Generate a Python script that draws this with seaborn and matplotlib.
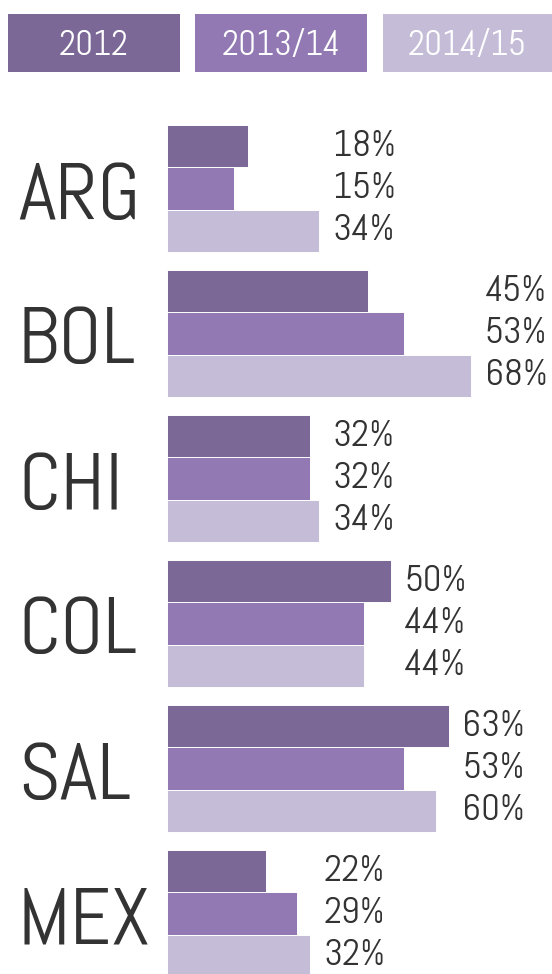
import matplotlib
matplotlib.use("Agg")
import matplotlib.pyplot as plt
from matplotlib.patches import Rectangle
from matplotlib.transforms import blended_transform_factory
import pandas as pd
import seaborn as sns

countries = ["ARG", "BOL", "CHI", "COL", "SAL", "MEX"]
periods = ["2012", "2013/14", "2014/15"]
v2012 = [18, 45, 32, 50, 63, 22]
v2013_14 = [15, 53, 32, 44, 53, 29]
v2014_15 = [34, 68, 34, 44, 60, 32]
colors = ["#7b6897", "#9279b3", "#c5bdd8"]

df = pd.DataFrame({
    "country": countries * 3,
    "period": [p for p in periods for _ in countries],
    "value": v2012 + v2013_14 + v2014_15,
})

sns.set_style("white")
plt.rcParams["font.family"] = ["Abel", "DejaVu Sans"]
text_color = "#333333"

W, H = 552, 974
fig = plt.figure(figsize=(W / 100, H / 100), dpi=100)

# bars area: starts at x=167px, 4.47px per percent, 145px per country
left_px, top_px, pitch = 167.3, 100, 145
ax = fig.add_axes([left_px / W, 0, 1 - left_px / W, 1 - top_px / H])
sns.barplot(data=df, x="value", y="country", hue="period", order=countries,
            hue_order=periods, palette=colors, saturation=1, width=0.876,
            orient="h", edgecolor="white", linewidth=0.7, legend=False, ax=ax)
ax.set_xlim(0, (W - left_px) / 4.47)
ax.set_ylim((H - 188.5) / pitch, (top_px - 188.5) / pitch)
ax.set_axis_off()

# value labels, one column per country just right of its longest bar
group_max = [max(a, b, c) for a, b, c in zip(v2012, v2013_14, v2014_15)]
for cont in ax.containers:
    for i, bar in enumerate(cont):
        yc = bar.get_y() + bar.get_height() / 2
        ax.text(group_max[i] + 3.0, yc, f"{bar.get_width():.0f}%", ha="left",
                va="center", fontsize=26.5, color=text_color)

# big country names on the left (baseline half a cap height below centre)
trans = blended_transform_factory(fig.transFigure, ax.transData)
for i, c in enumerate(countries):
    fig.text(18 / W, i + 30 / pitch, c, transform=trans, ha="left",
             va="baseline", fontsize=58, color=text_color)

# legend tabs at the top
tabs = [(8.3, 180), (195, 367.3), (382.7, 552)]
for (x0, x1), lab, col in zip(tabs, periods, colors):
    fig.patches.append(Rectangle((x0 / W, 1 - 71.7 / H), (x1 - x0) / W, 57.5 / H,
                                 transform=fig.transFigure, facecolor=col,
                                 edgecolor="none"))
    fig.text((x0 + x1) / 2 / W, 1 - 55 / H, lab, ha="center", va="baseline",
             fontsize=25, color="white")

fig.savefig("out.png", dpi=100)
